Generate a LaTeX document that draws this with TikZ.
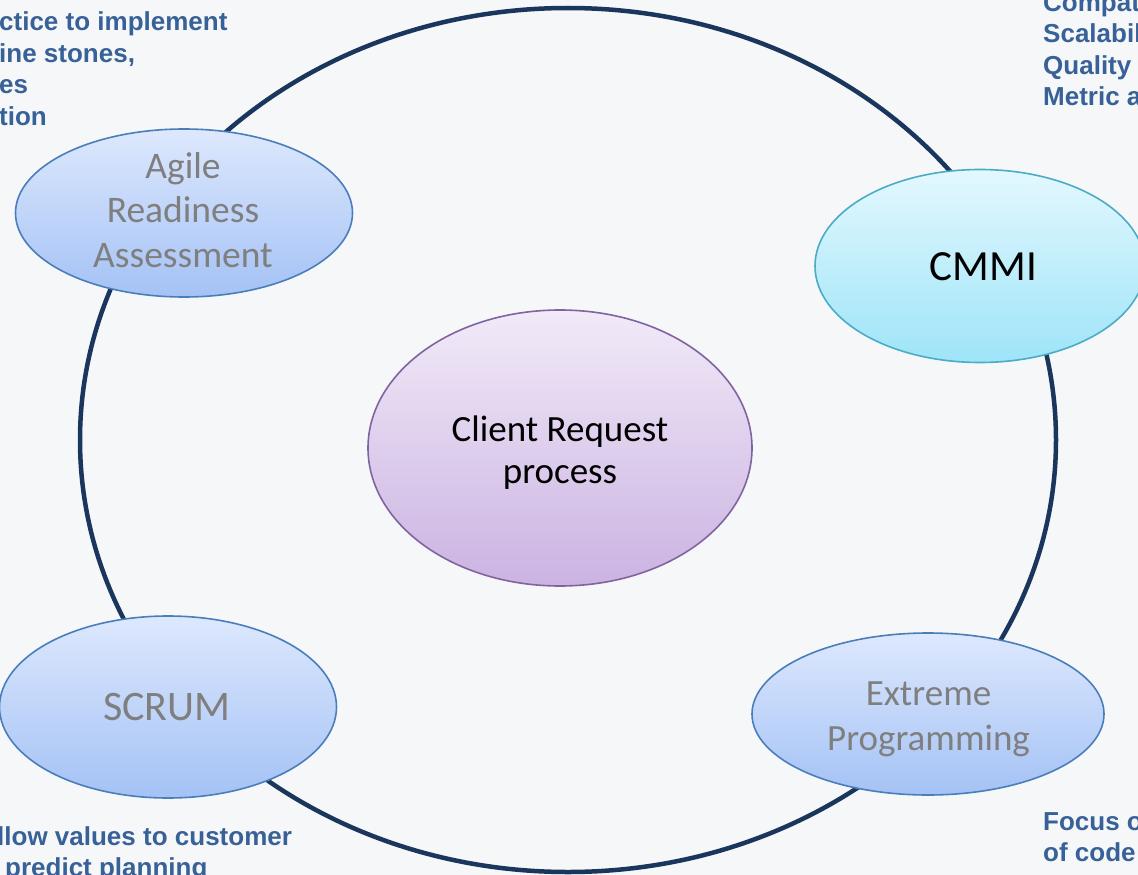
\documentclass[tikz,border=0pt]{standalone}
\usepackage{fontspec}
\setmainfont{Carlito}
\newfontfamily\notefont{Liberation Sans}
\usetikzlibrary{shapes.geometric}

\definecolor{bgcol}{HTML}{F6F7F9}
\definecolor{ringcol}{HTML}{1B365D}
\definecolor{bluetop}{HTML}{DDE8FD}
\definecolor{bluebot}{HTML}{A4C2F5}
\definecolor{blueline}{HTML}{4A7EBB}
\definecolor{cyantop}{HTML}{E3F8FE}
\definecolor{cyanbot}{HTML}{9EE4F8}
\definecolor{cyanline}{HTML}{4BACC6}
\definecolor{lilactop}{HTML}{F1EAF8}
\definecolor{lilacbot}{HTML}{CBB3E2}
\definecolor{lilacline}{HTML}{8064A2}
\definecolor{notecol}{HTML}{386198}
\definecolor{labelgray}{HTML}{7F7F7F}

\tikzset{
  oval/.style={ellipse, draw, line width=1.6pt, inner sep=0pt,
    shading=axis, shading angle=0},
  bluebubble/.style={oval, draw=blueline, top color=bluetop, bottom color=bluebot},
  cyanbubble/.style={oval, draw=cyanline, top color=cyantop, bottom color=cyanbot},
  lilacbubble/.style={oval, draw=lilacline, top color=lilactop, bottom color=lilacbot},
  % bubble captions; multi-line ones sit on the baseline of their last line
  caption/.style={inner sep=0pt, anchor=base, align=center},
  graycaption/.style={caption, text=labelgray},
  note/.style={inner sep=0pt, anchor=base west, align=left, text=notecol,
    font=\notefont\bfseries\fontsize{26}{31.5}\selectfont},
}

\begin{document}
\begin{tikzpicture}[x=1pt,y=-1pt]
\useasboundingbox (0,0) rectangle (1138,875);
\clip (0,0) rectangle (1138,875);
\fill[bgcol] (0,0) rectangle (1138,875);

% outer cycle
\node[ellipse, draw=ringcol, line width=4.5pt, minimum width=976pt,
  minimum height=864pt, inner sep=0pt] (ring) at (568,440) {};

% centre
\node[lilacbubble, minimum width=384pt, minimum height=276pt] (client) at (560,448) {};
\node[caption, font=\fontsize{37}{42}\selectfont] (clienttext) at (560,483.5)
  {Client Request\\process};

% surrounding practices
\node[bluebubble, minimum width=337pt, minimum height=168pt] (agile) at (184,213) {};
\node[graycaption, font=\fontsize{37.5}{44.3}\selectfont] (agiletext) at (183,267)
  {Agile\\Readiness\\Assessment};

\node[cyanbubble, minimum width=330pt, minimum height=193pt] (cmmi) at (980,266) {};
\node[caption, font=\fontsize{43}{45}\selectfont] (cmmitext) at (983.5,280.5) {CMMI};

\node[bluebubble, minimum width=337pt, minimum height=182pt] (scrum) at (168,707) {};
\node[graycaption, font=\fontsize{42}{45}\selectfont] (scrumtext) at (167,720) {SCRUM};

\node[bluebubble, minimum width=352pt, minimum height=162pt] (xp) at (928,714) {};
\node[graycaption, font=\fontsize{37}{45}\selectfont] (xptext) at (928.5,750)
  {Extreme\\Programming};

% notes in the corners
\node[note] (noteagile) at (-1,125) {ctice to implement\\ine stones,\\es\\tion};
\node[note] (notecmmi) at (1043,106) {Compat\\Scalabil\\Quality\\Metric a};
\node[note] (notescrum) at (-3,876.5) {llow values to customer\\\hspace{8pt}predict planning};
\node[note] (notexp) at (1043,861.5) {Focus o\\of code};
\end{tikzpicture}
\end{document}
